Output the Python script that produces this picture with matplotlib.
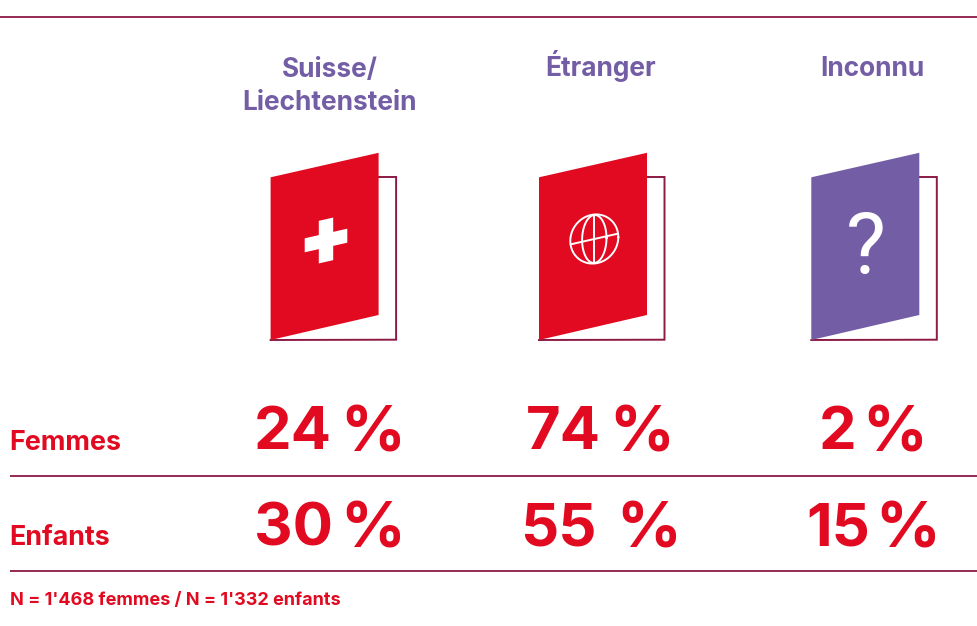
import numpy as np
import matplotlib
matplotlib.use("Agg")
import matplotlib.pyplot as plt
from matplotlib.patches import Polygon

W, H = 977, 626
RED = "#e10a21"
PURPLE = "#735da5"
WINE = "#8c1a44"
FONT = ["Inter", "Liberation Sans", "DejaVu Sans"]

headers = [["Suisse/", "Liechtenstein"], ["Étranger"], ["Inconnu"]]
rows = ["Femmes", "Enfants"]
femmes = [24, 74, 2]
enfants = [30, 55, 15]
footnote = "N = 1'468 femmes / N = 1'332 enfants"

header_x = [330, 601, 872]
num_right = [[332, 601, 856], [333, 597, 870]]
pct_center = [[372.5, 642, 895], [372.5, 649, 907.5]]
book_left = [270.6, 539, 811.3]
book_colors = [RED, RED, PURPLE]

fig = plt.figure(figsize=(W / 100, H / 100), dpi=100)
ax = fig.add_axes([0, 0, 1, 1])
ax.set_xlim(0, W)
ax.set_ylim(H, 0)
ax.axis("off")

for y in (16.5, 476, 571):
    ax.plot([10 if y > 20 else 0, W], [y, y], color=WINE, lw=1.3, solid_capstyle="butt")

for x, lines in zip(header_x, headers):
    for k, line in enumerate(lines):
        ax.text(x, 76.5 + 34 * k, line, ha="center", va="baseline", color=PURPLE, fontsize=18.9,
                fontweight="bold", family=FONT)

SK = -24.4 / 108
for i, (x0, c) in enumerate(zip(book_left, book_colors)):
    ax.plot([x0 + 108, x0 + 125.5, x0 + 125.5, x0], [177, 177, 339.7, 340],
            color=WINE, lw=1.4, solid_joinstyle="miter")
    ax.add_patch(Polygon([(x0, 177.3), (x0 + 108, 152.8), (x0 + 108, 315), (x0, 340)],
                         closed=True, fc=c, ec="none", zorder=3))

def skew(u, v, cx, cy, s=SK):
    u, v = np.asarray(u, float), np.asarray(v, float)
    return np.column_stack([cx + u, cy + v + s * u])

# Swiss cross
cx, cy = 326, 240.5
a, b, t, hh = 7.2, 21.3, 21.3, 7.0
cross_u = [-a, a, a, t, t, a, a, -a, -a, -t, -t, -a]
cross_v = [-b, -b, -hh, -hh, hh, hh, b, b, hh, hh, -hh, -hh]
ax.add_patch(Polygon(skew(cross_u, cross_v, cx, cy), closed=True, fc="white", ec="none", zorder=4))

# Globe
gx, gy = 594.3, 239
th = np.linspace(0, 2 * np.pi, 200)
p = skew(24 * np.cos(th), 24.5 * np.sin(th), gx, gy, -0.08)
ax.plot(p[:, 0], p[:, 1], color="white", lw=1.4, zorder=4)
p = skew(12.2 * np.cos(th), 24 * np.sin(th), gx, gy, -0.08)
ax.plot(p[:, 0], p[:, 1], color="white", lw=1.4, zorder=4)
p = skew([0, 0], [-24, 24], gx, gy)
ax.plot(p[:, 0], p[:, 1], color="white", lw=1.4, zorder=4)
p = skew([-23.5, 23.5], [0, 0], gx, gy)
ax.plot(p[:, 0], p[:, 1], color="white", lw=1.4, zorder=4)

# Question mark
ax.text(865.5, 274, "?", ha="center", va="baseline", color="white", fontsize=61,
        family=["Roboto", "Liberation Sans"], fontweight="normal", zorder=4)

for r, (label, vals, baseline, ly) in enumerate(zip(rows, (femmes, enfants), (449, 545), (450, 545))):
    ax.text(9, ly, label, ha="left", va="baseline", color=RED, fontsize=19.4,
            fontweight="bold", family=FONT)
    for j, v in enumerate(vals):
        ax.text(num_right[r][j], baseline, str(v), ha="right", va="baseline", color=RED,
                fontsize=43, fontweight="bold", family=FONT)
        ax.text(pct_center[r][j], baseline + 2, "%", ha="center", va="baseline", color=RED,
                fontsize=46, fontweight="bold", family=FONT)

ax.text(10, 605, footnote, ha="left", va="baseline", color=RED, fontsize=13,
        fontweight="bold", family=FONT)

fig.savefig("out.png", dpi=100)
